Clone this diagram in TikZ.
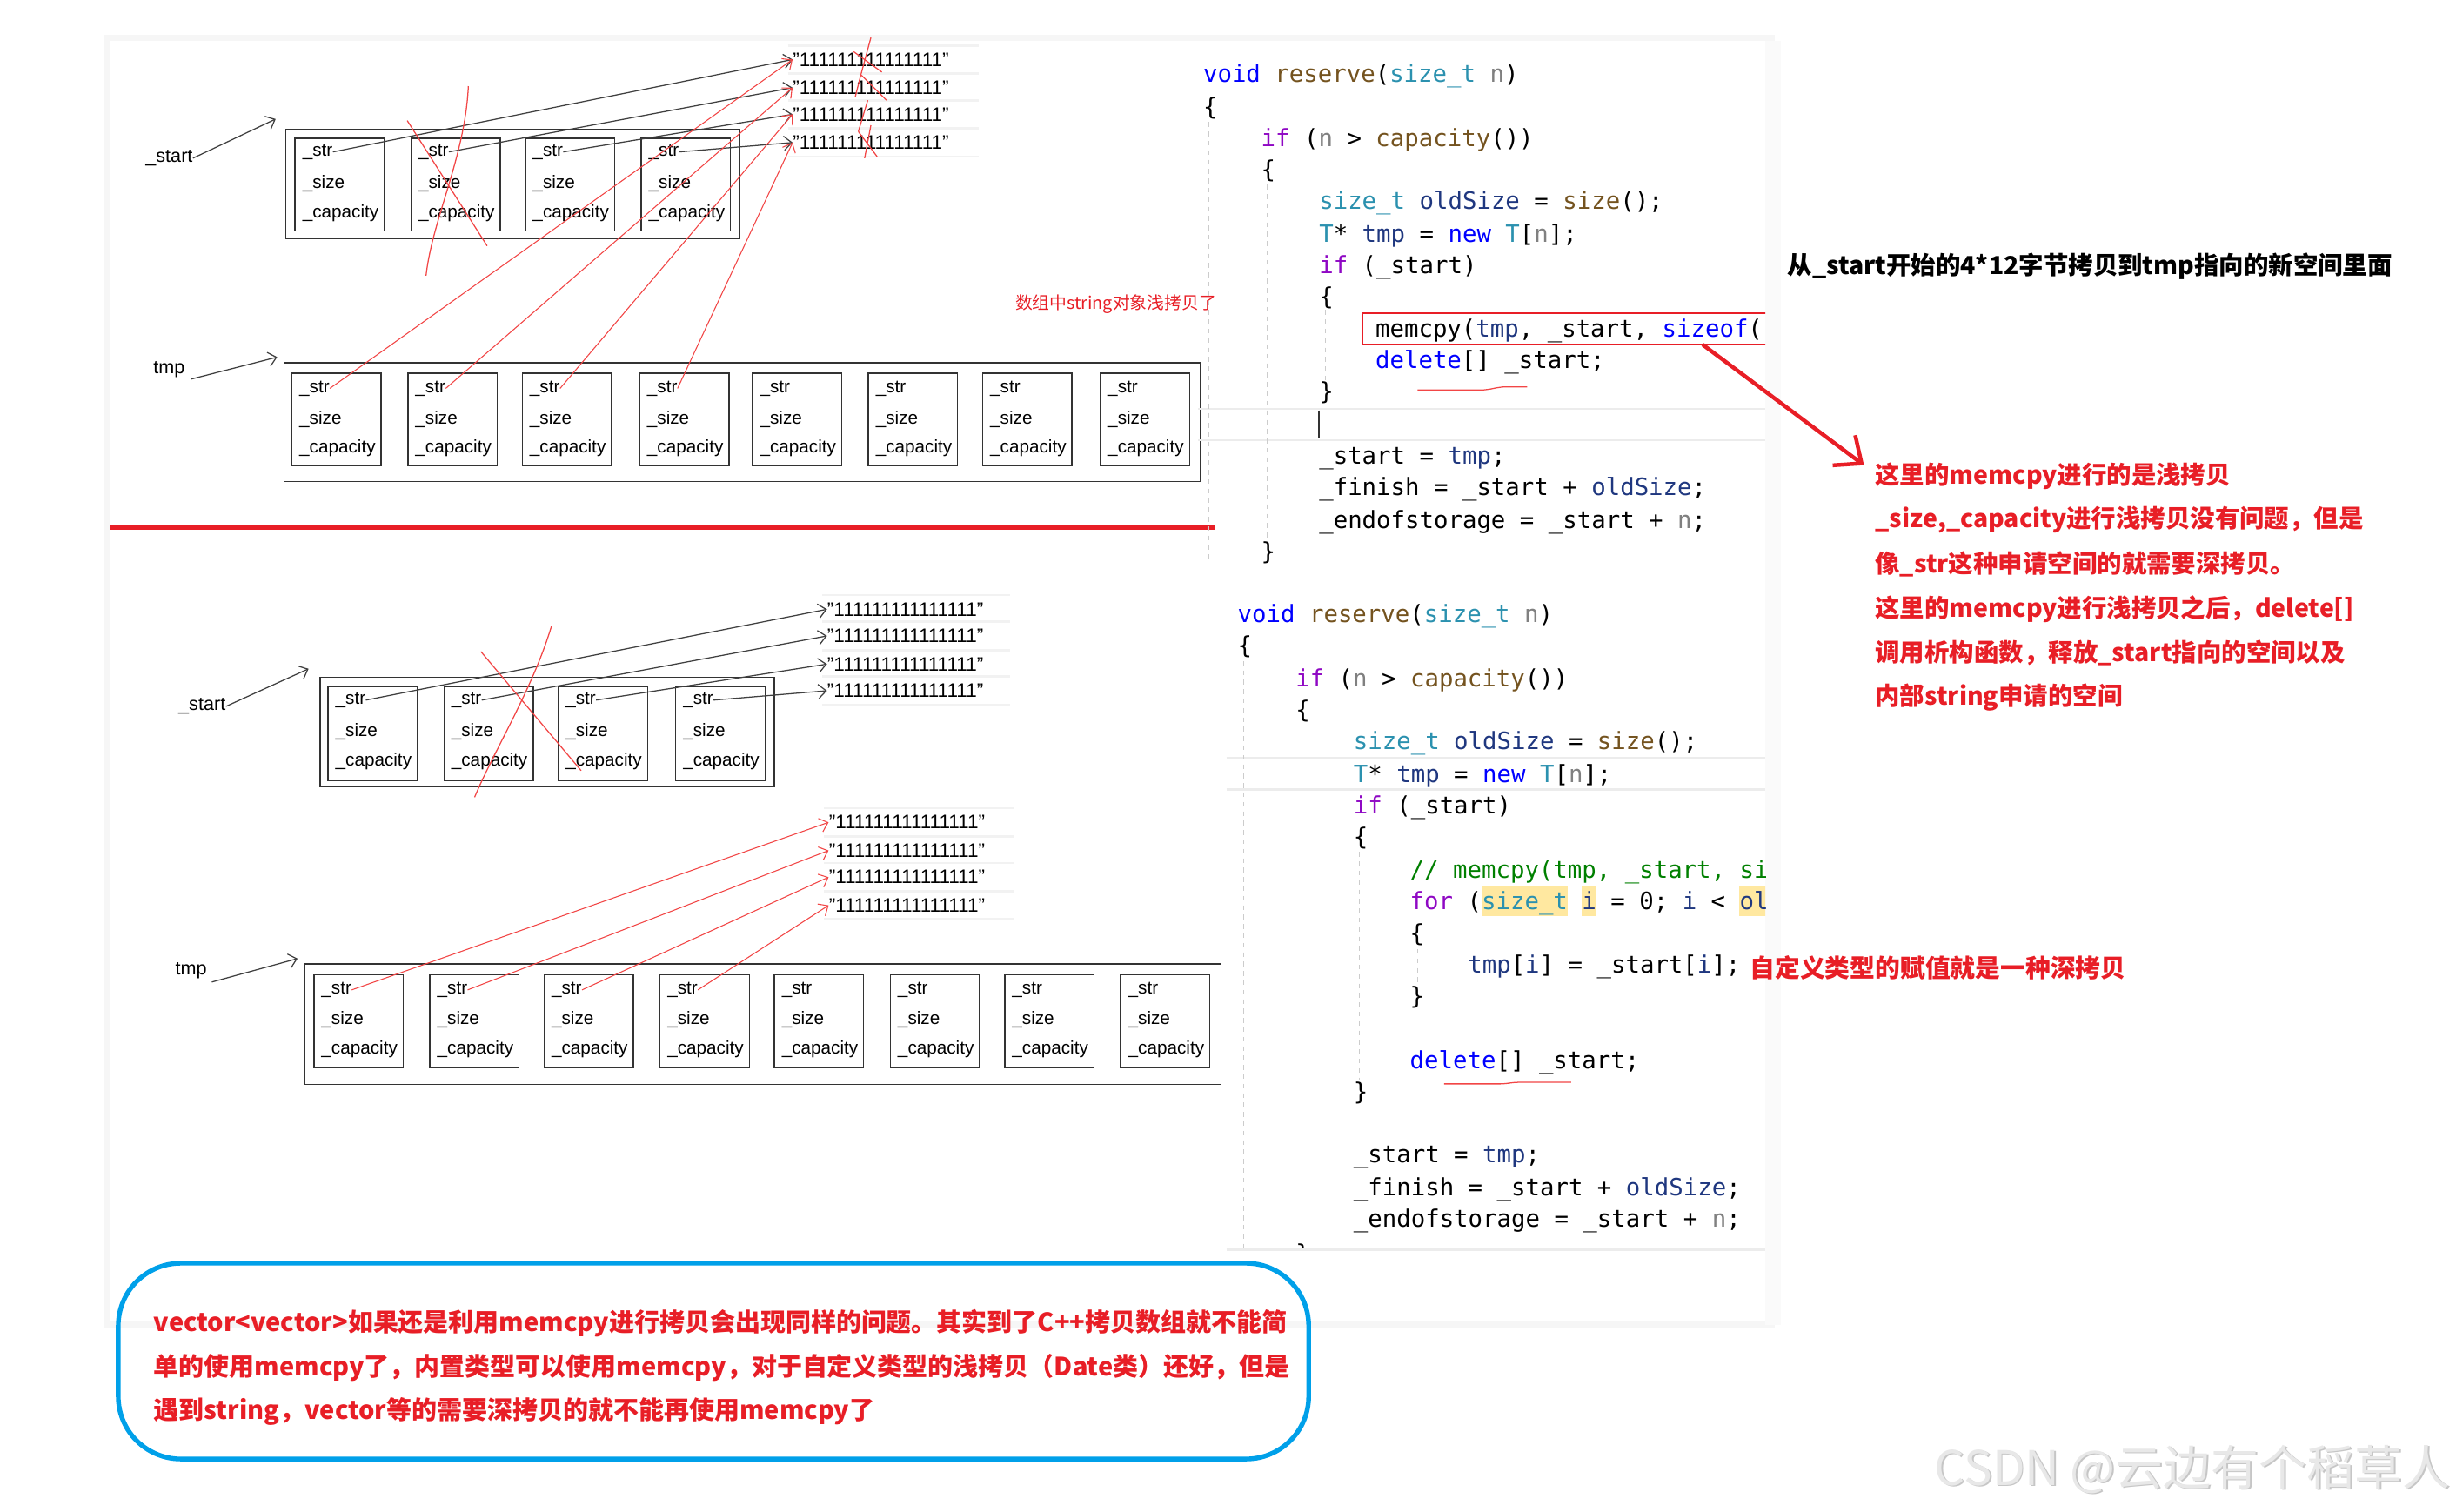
\documentclass[tikz,border=0pt]{standalone}
\usepackage{fontspec}
\setmainfont{Liberation Sans}
\newfontfamily\cjk{Noto Sans CJK SC}
\newfontfamily\codefont{DejaVu Sans Mono}
\usetikzlibrary{arrows.meta}
\definecolor{myred}{RGB}{232,30,38}
\definecolor{handred}{RGB}{242,70,70}
\definecolor{ellblue}{RGB}{0,160,233}
\definecolor{ckwc}{RGB}{0,0,255}
\definecolor{cctlc}{RGB}{143,8,196}
\definecolor{cfnc}{RGB}{116,83,31}
\definecolor{ctyc}{RGB}{43,145,175}
\definecolor{cpac}{RGB}{128,128,128}
\definecolor{clvc}{RGB}{31,55,127}
\definecolor{ccmc}{RGB}{0,128,0}
\definecolor{hlyel}{RGB}{255,232,160}
\newcommand\ckw[1]{\textcolor{ckwc}{#1}}
\newcommand\cctl[1]{\textcolor{cctlc}{#1}}
\newcommand\cfnx[1]{\textcolor{cfnc}{#1}}
\newcommand\ctyx[1]{\textcolor{ctyc}{#1}}
\newcommand\cpax[1]{\textcolor{cpac}{#1}}
\newcommand\clvx[1]{\textcolor{clvc}{#1}}
\newcommand\ccmx[1]{\textcolor{ccmc}{#1}}
\newcommand\codeln[4]{\node[code] (#1) at (#2,#3+5.5) {#4};}
\begin{document}
\begin{tikzpicture}[x=1pt,y=-1pt,
  cell/.style={draw=black!80, line width=0.8pt, minimum width=57pt, minimum height=59pt, anchor=north west, inner sep=0pt},
  outerbox/.style={draw=black!80, line width=0.9pt, anchor=north west, inner sep=0pt},
  lbl/.style={font=\fontsize{11.5}{12}\selectfont, inner sep=0pt, anchor=west},
  plbl/.style={font=\fontsize{12}{13}\selectfont, inner sep=0pt},
  strtxt/.style={font=\fontsize{12.5}{13}\selectfont, inner sep=0pt, anchor=west},
  blkarr/.style={draw=black!75, line width=0.7pt, -{Straight Barb[length=5pt,width=9pt]}},
  redarr/.style={draw=handred, line width=0.6pt, -{Straight Barb[length=5pt,width=9pt]}},
  handline/.style={draw=handred, line width=0.7pt},
  code/.style={font=\codefont\fontsize{15.2}{16}\selectfont\frenchspacing, inner sep=0pt, anchor=base west},
  redbig/.style={font=\cjk\bfseries\fontsize{15.8}{17}\selectfont, text=myred, inner sep=0pt, anchor=west},
  elltxt/.style={font=\cjk\bfseries\fontsize{16.1}{17}\selectfont, text=myred, inner sep=0pt, anchor=west},
  guide/.style={draw=gray!40, line width=0.6pt, dash pattern=on 3pt off 3pt},
  sep/.style={draw=gray!10, line width=1.5pt}
]
\useasboundingbox (0,0) rectangle (1568,965);
\fill[white] (0,0) rectangle (1568,965);
% panel with faint shadow
\fill[gray!7] (66,22) rectangle (1133,848);
\fill[gray!4] (1127,26) rectangle (1137,846);
\fill[white] (70,26) rectangle (1127,843);

% ---------------- top section ----------------
\node[plbl] (startA) at (108,101) {\_start};
\coordinate (startAend) at (176,76);
\draw[blkarr] (startA.east) -- (startAend);
\node[outerbox, minimum width=290pt, minimum height=70pt] (boxA) at (182,82) {};
\foreach \x [count=\i] in {188,262,335,409}{
  \node[cell] (ua\i) at (\x,88) {};
  \node[lbl] (uas\i) at (\x+5,97) {\_str};
  \node[lbl] (uaz\i) at (\x+5,117) {\_size};
  \node[lbl] (uac\i) at (\x+5,136) {\_capacity};
}
\foreach \y in {29,47,64,82,100}{\draw[sep] (503,\y) -- (625,\y);}
\foreach \y [count=\i] in {38,56,73,91}{
  \node[strtxt] (ts\i) at (506,\y) {"111111111111111"};
}
\foreach \i in {1,...,4}{\draw[blkarr] (uas\i.east) -- (ts\i.west);}

\node[plbl] (tmpA) at (108,236) {tmp};
\coordinate (tmpAend) at (177,228);
\draw[blkarr] (tmpA.east) ++(4,6) -- (tmpAend);
\node[outerbox, minimum width=585pt, minimum height=76pt] (boxB) at (181,231) {};
\foreach \x [count=\i] in {186,260,333,408,480,554,627,702}{
  \node[cell] (ub\i) at (\x,238) {};
  \node[lbl] (ubs\i) at (\x+5,248) {\_str};
  \node[lbl] (ubz\i) at (\x+5,268) {\_size};
  \node[lbl] (ubc\i) at (\x+5,286) {\_capacity};
}
\foreach \i in {1,...,4}{\draw[redarr] (ubs\i.east) -- (ts\i.west);}
% red crosses (top)
\draw[handline] (260,77) -- (311,157);
\draw[handline] (299,55) .. controls (297,100) and (276,140) .. (272,176);
\draw[handline] (556,24) -- (549,50) -- (546,62);
\draw[handline] (545,33) -- (563,46);
\draw[handline] (550,48) -- (566,64);
\draw[handline] (554,64) -- (548,84);
\draw[handline] (548,84) -- (560,100);
\draw[handline] (556,80) -- (552,101);

\node[font=\cjk\fontsize{11}{12}\selectfont, text=myred, inner sep=0pt, anchor=west] (note1) at (648,194) {数组中string对象浅拷贝了};

% red separator
\draw[draw=myred, line width=2.5pt] (70,337) -- (776,337);

% ---------------- bottom section ----------------
\node[plbl] (startB) at (129,451) {\_start};
\coordinate (startBend) at (197,427);
\draw[blkarr] (startB.east) -- (startBend);
\node[outerbox, minimum width=290pt, minimum height=70pt] (boxC) at (204,432) {};
\foreach \x [count=\i] in {209,283,356,431}{
  \node[cell, minimum height=60pt] (uc\i) at (\x,438) {};
  \node[lbl] (ucs\i) at (\x+5,447) {\_str};
  \node[lbl] (ucz\i) at (\x+5,467) {\_size};
  \node[lbl] (ucc\i) at (\x+5,486) {\_capacity};
}
\foreach \y in {380,397,415,432,450}{\draw[sep] (525,\y) -- (645,\y);}
\foreach \y [count=\i] in {389,406,424,441}{
  \node[strtxt] (bs\i) at (528,\y) {"111111111111111"};
}
\foreach \i in {1,...,4}{\draw[blkarr] (ucs\i.east) -- (bs\i.west);}
\draw[handline] (307,416) -- (371,492);
\draw[handline] (352,400) .. controls (340,440) and (315,480) .. (303,509);

\foreach \y in {516,534,551,569,587}{\draw[sep] (526,\y) -- (647,\y);}
\foreach \y [count=\i] in {525,543,560,578}{
  \node[strtxt] (cs\i) at (529,\y) {"111111111111111"};
}
\node[plbl] (tmpB) at (122,620) {tmp};
\coordinate (tmpBend) at (190,612);
\draw[blkarr] (tmpB.east) ++(3,7) -- (tmpBend);
\node[outerbox, minimum width=585pt, minimum height=77pt] (boxD) at (194,615) {};
\foreach \x [count=\i] in {200,274,347,421,494,568,641,715}{
  \node[cell] (ud\i) at (\x,622) {};
  \node[lbl] (uds\i) at (\x+5,632) {\_str};
  \node[lbl] (udz\i) at (\x+5,651) {\_size};
  \node[lbl] (udc\i) at (\x+5,670) {\_capacity};
}
\foreach \i in {1,...,4}{\draw[redarr] (uds\i.east) -- (cs\i.west);}

% ---------------- code ----------------
\begin{scope}
\clip (760,26) rectangle (1127,797);
% current-line highlights
\draw[draw=gray!15, line width=1.5pt] (765,261) -- (1127,261) (765,281) -- (1127,281);
\draw[draw=gray!15, line width=1.5pt] (783,484) -- (1127,484) (783,504) -- (1127,504);
\draw[draw=black!80, line width=0.9pt] (842,262) -- (842,280);
% indent guides
\draw[guide] (772,78) -- (772,358);
\draw[guide] (809,118) -- (809,345);
\draw[guide] (846,198) -- (846,245);
\draw[guide] (794,422) -- (794,797);
\draw[guide] (831,463) -- (831,797);
\draw[guide] (868,544) -- (868,690);
\draw[guide] (905,606) -- (905,630);
% memcpy red frame
\draw[draw=myred, line width=0.7pt] (870,200) rectangle (1135,220);
% yellow highlights
\fill[hlyel] (945.8,566) rectangle (1000.7,585);
\fill[hlyel] (1009.8,566) rectangle (1019,585);
\fill[hlyel] (1110.5,566) rectangle (1130,585);

\codeln{tA1}{768}{47}{\ckw{void} \cfnx{reserve}(\ctyx{size\_t} \cpax{n})}
\codeln{tA2}{768}{68}{\{}
\codeln{tA3}{805}{88}{\cctl{if} (\cpax{n} > \cfnx{capacity}())}
\codeln{tA4}{805}{108}{\{}
\codeln{tA5}{842}{128}{\ctyx{size\_t} \clvx{oldSize} = \cfnx{size}();}
\codeln{tA6}{842}{149}{\ctyx{T}* \clvx{tmp} = \ckw{new} \ctyx{T}[\cpax{n}];}
\codeln{tA7}{842}{169}{\cctl{if} (\_start)}
\codeln{tA8}{842}{189}{\{}
\codeln{tA9}{878}{210}{memcpy(\clvx{tmp}, \_start, \ckw{sizeof}(}
\codeln{tA10}{878}{230}{\ckw{delete}[] \_start;}
\codeln{tA11}{842}{250}{\}}
\codeln{tA12}{842}{291}{\_start = \clvx{tmp};}
\codeln{tA13}{842}{311}{\_finish = \_start + \clvx{oldSize};}
\codeln{tA14}{842}{332}{\_endofstorage = \_start + \cpax{n};}
\codeln{tA15}{805}{352}{\}}

\codeln{bB1}{790}{392}{\ckw{void} \cfnx{reserve}(\ctyx{size\_t} \cpax{n})}
\codeln{bB2}{790}{412}{\{}
\codeln{bB3}{827}{433}{\cctl{if} (\cpax{n} > \cfnx{capacity}())}
\codeln{bB4}{827}{453}{\{}
\codeln{bB5}{864}{473}{\ctyx{size\_t} \clvx{oldSize} = \cfnx{size}();}
\codeln{bB6}{864}{494}{\ctyx{T}* \clvx{tmp} = \ckw{new} \ctyx{T}[\cpax{n}];}
\codeln{bB7}{864}{514}{\cctl{if} (\_start)}
\codeln{bB8}{864}{534}{\{}
\codeln{bB9}{900}{555}{\ccmx{// memcpy(tmp, \_start, si}}
\codeln{bB10}{900}{575}{\cctl{for} (\ctyx{size\_t} \clvx{i} = 0; \clvx{i} < \clvx{ol}}
\codeln{bB11}{900}{596}{\{}
\codeln{bB12}{937}{616}{\clvx{tmp}[\clvx{i}] = \_start[\clvx{i}];}
\codeln{bB13}{900}{636}{\}}
\codeln{bB14}{900}{677}{\ckw{delete}[] \_start;}
\codeln{bB15}{864}{697}{\}}
\codeln{bB16}{864}{737}{\_start = \clvx{tmp};}
\codeln{bB17}{864}{758}{\_finish = \_start + \clvx{oldSize};}
\codeln{bB18}{864}{778}{\_endofstorage = \_start + \cpax{n};}
\codeln{bB19}{827}{800}{\}}
\end{scope}
\draw[draw=gray!15, line width=1.5pt] (783,798) -- (1127,798);
% red underlines
\draw[handline] (905,249) -- (945,249) .. controls (952,249) and (955,247) .. (962,247) -- (975,247);
\draw[handline] (922,692) -- (958,692) .. controls (962,692) and (965,691) .. (970,691) -- (1003,691);

% ---------------- annotations ----------------
\node[font=\cjk\bfseries\fontsize{15.8}{17}\selectfont, text=black, inner sep=0pt, anchor=west] (hdr) at (1141,170) {从\_start开始的4*12字节拷贝到tmp指向的新空间里面};
\coordinate (arrS) at (1087,220);
\coordinate (arrE) at (1190,297);
\draw[draw=myred, line width=2.5pt, -{Straight Barb[length=14pt,width=24pt]}] (arrS) -- (arrE);
\node[redbig] (r1) at (1197,304) {这里的memcpy进行的是浅拷贝};
\node[redbig] (r2) at (1197,332) {\_size,\_capacity进行浅拷贝没有问题，但是};
\node[redbig] (r3) at (1197,360) {像\_str这种申请空间的就需要深拷贝。};
\node[redbig] (r4) at (1197,389) {这里的memcpy进行浅拷贝之后，delete[]};
\node[redbig] (r5) at (1197,417) {调用析构函数，释放\_start指向的空间以及};
\node[redbig] (r6) at (1197,445) {内部string申请的空间};
\node[redbig, font=\cjk\bfseries\fontsize{16}{17}\selectfont] (r7) at (1117,618) {自定义类型的赋值就是一种深拷贝};

% bottom ellipse
\node[draw=ellblue, line width=3pt, rounded corners=40pt, minimum width=760pt, minimum height=125pt, anchor=north west, inner sep=0pt] (ell) at (74,805) {};
\node[elltxt] (e1) at (98,845) {vector<vector>如果还是利用memcpy进行拷贝会出现同样的问题。其实到了C++拷贝数组就不能简};
\node[elltxt] (e2) at (98,873) {单的使用memcpy了，内置类型可以使用memcpy，对于自定义类型的浅拷贝（Date类）还好，但是};
\node[elltxt] (e3) at (98,901) {遇到string，vector等的需要深拷贝的就不能再使用memcpy了};

% watermark
\node[font=\cjk\fontsize{30.5}{32}\selectfont, text=gray!45, inner sep=0pt, anchor=west] (wm2) at (1236,939) {CSDN @云边有个稻草人};
\node[font=\cjk\fontsize{30.5}{32}\selectfont, text=gray!18, inner sep=0pt, anchor=west] (wm) at (1235,938) {CSDN @云边有个稻草人};
\end{tikzpicture}
\end{document}
